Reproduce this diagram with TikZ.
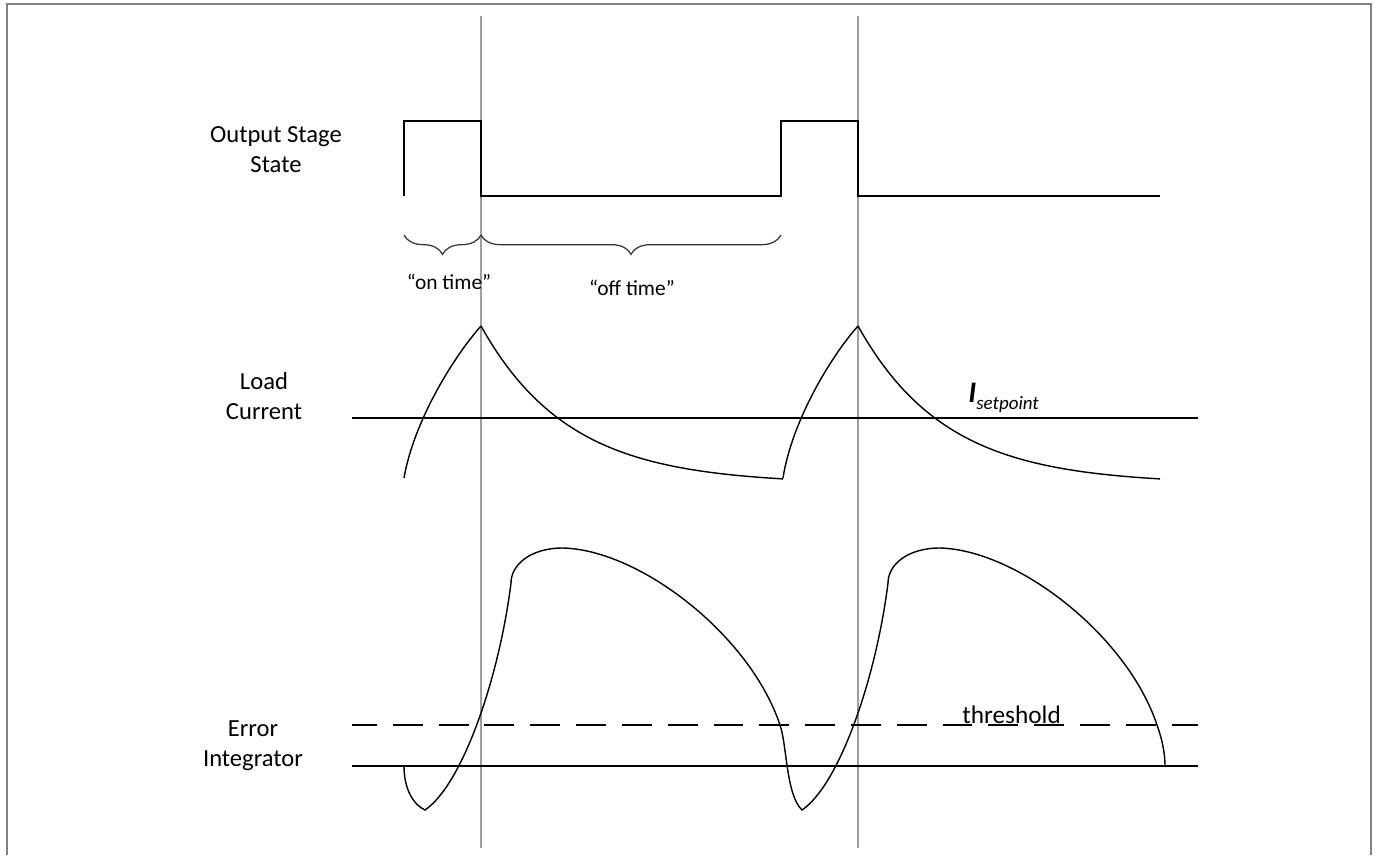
\documentclass[tikz,border=0pt]{standalone}
\usepackage{fontspec}
\setmainfont{Carlito}
\usetikzlibrary{decorations.pathreplacing}
\begin{document}
\begin{tikzpicture}[x=0.02cm, y=-0.02cm, font=\fontsize{14}{17}\selectfont,
    frame/.style={draw=black!50, line width=1.1pt},
    marker/.style={draw=black!38, line width=0.8pt},
    trace/.style={line width=0.8pt},
    level/.style={line width=1.1pt},
    brc/.style={decorate, decoration={brace, mirror, amplitude=11pt}, line width=0.7pt, draw=black!80},
    lbl/.style={align=center, inner sep=0pt},
    small/.style={font=\fontsize{12.2}{14}\selectfont}]
    \useasboundingbox (0,0) rectangle (1375,855);
    \draw[frame] (7,855) -- (7,4) -- (1371,4) -- (1371,855);
    \foreach \t in {481,858} \draw[marker] (\t,16) -- (\t,848);
    \node[lbl] (stage) at (276,150) {Output Stage\\State};
    \node[lbl] (load) at (264,396) {Load\\Current};
    \node[lbl] (integ) at (253,746) {Error\\Integrator};
    \draw[level] (404,196) -- (404,121) -- (481,121) -- (481,196) -- (781,196) -- (781,121) -- (858,121) -- (858,196) -- (1160,196);
    \draw[brc] (404,235) -- (481,235);
    \draw[brc] (481,235) -- (781,235);
    \node[small, anchor=base] (on) at (449,289) {“on time”};
    \node[small, anchor=base] (off) at (632,295) {“off time”};
    \draw[level] (352,418) -- (1198,418);
    \draw[trace] (404,478) .. controls (414,420) and (455,355) .. (481,326);
    \draw[trace, domain=481:783, samples=60] plot (\x, {484-158*exp(-(\x-481)/88)});
    \draw[trace] (783,478) .. controls (792,420) and (832,355) .. (858,326);
    \draw[trace, domain=858:1160, samples=60] plot (\x, {484-158*exp(-(\x-858)/88)});
    \node[anchor=base west, inner sep=0pt] (iset) at (968,402) {{\fontsize{17}{17}\selectfont\bfseries\itshape I}\raisebox{-4pt}{\fontsize{10.8}{12}\selectfont\itshape setpoint}};
    \draw[level, dash pattern=on 17pt off 9.07pt, dash phase=2.8pt] (352,725) -- (1198,725);
    \draw[level] (352,766) -- (1198,766);
    \draw[trace] (404,766) .. controls (404,790) and (414,805) .. (425,810)
        .. controls (462,785) and (499,679) .. (511,583)
        .. controls (511,565) and (530,548) .. (563,548)
        .. controls (640,550) and (750,635) .. (780,725)
        .. controls (787,745) and (786,795) .. (802,810)
        .. controls (839,785) and (876,679) .. (888,583)
        .. controls (888,565) and (907,548) .. (940,548)
        .. controls (1017,550) and (1127,635) .. (1157,725)
        .. controls (1163,742) and (1165,755) .. (1165,766);
    \node[anchor=base west, inner sep=0pt, font=\fontsize{14.4}{17}\selectfont] (thr) at (962,723) {threshold};
\end{tikzpicture}
\end{document}
